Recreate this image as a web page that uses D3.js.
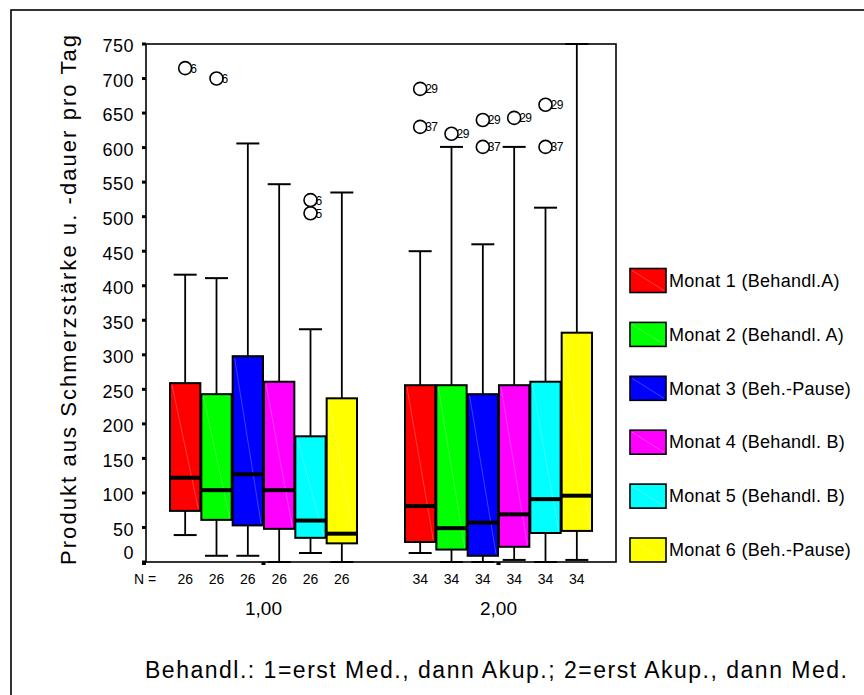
<!DOCTYPE html>
<html>
<head>
<meta charset="utf-8">
<script src="https://cdn.jsdelivr.net/npm/d3@7"></script>
<style>
  body { margin: 0; background: #fff; }
  svg { font-family: Arial, "Liberation Sans", sans-serif; }
</style>
</head>
<body>
<svg width="864" height="695"></svg>
<script>
// --- data ---
var groups = ['1,00', '2,00'];
var nCounts = [26, 34];
var months = ['Monat 1 (Behandl.A)', 'Monat 2 (Behandl. A)', 'Monat 3 (Beh.-Pause)',
              'Monat 4 (Behandl. B)', 'Monat 5 (Behandl. B)', 'Monat 6 (Beh.-Pause)'];
var colors = ['#ff0000', '#00ff00', '#0000ff', '#ff00ff', '#00ffff', '#ffff00'];
var yTicks = [0, 50, 100, 150, 200, 250, 300, 350, 400, 450, 500, 550, 600, 650, 700, 750];

// one row per group, one value per month
var whiskerLow  = [[39, 9, 9, 0, 13, 0],          [13, 0, 0, 3, 0, 3]];
var q1          = [[74, 61, 53, 48, 35, 27],      [29, 18, 9, 22, 42, 45]];
var median      = [[122, 104, 127, 104, 60, 41],  [81, 49, 57, 69, 91, 96]];
var q3          = [[259, 243, 298, 261, 182, 237],[256, 256, 243, 256, 261, 332]];
var whiskerHigh = [[416, 411, 606, 547, 337, 535],[450, 601, 460, 601, 513, 750]];

// outliers: [group, month, value, case label]
var outliers = [
  [0, 0, 715, '6'], [0, 1, 700, '6'], [0, 4, 524, '6'], [0, 4, 505, '5'],
  [1, 0, 685, '29'], [1, 0, 630, '37'], [1, 1, 620, '29'],
  [1, 2, 640, '29'], [1, 2, 601, '37'], [1, 3, 643, '29'],
  [1, 4, 662, '29'], [1, 4, 601, '37']
];

var svg = d3.select('svg');

var plot = { left: 146, right: 616, top: 44, bottom: 562 };

var x0 = d3.scaleBand().domain(groups).range([plot.left, plot.right]);
var x1 = d3.scaleBand().domain(d3.range(months.length))
  .range([x0.bandwidth() * 0.1, x0.bandwidth() * 0.9]);
var y = d3.scaleLinear().domain([0, 750]).range([plot.bottom, plot.top]);

// outer frame (runs off the right and bottom edge)
svg.append('rect')
  .attr('x', 11).attr('y', 10)
  .attr('width', 900).attr('height', 720)
  .attr('fill', 'none').attr('stroke', '#000').attr('stroke-width', 1.6);

// plot frame
svg.append('rect')
  .attr('x', plot.left).attr('y', plot.top)
  .attr('width', plot.right - plot.left).attr('height', plot.bottom - plot.top)
  .attr('fill', 'none').attr('stroke', '#000').attr('stroke-width', 1.6);

// y axis ticks and labels
var yAxis = svg.append('g');
yAxis.selectAll('rect.tick').data(yTicks).enter().append('rect')
  .attr('class', 'tick')
  .attr('x', plot.left - 4).attr('y', function(d) { return y(d) - 1.5; })
  .attr('width', 4).attr('height', 3).attr('fill', '#000');
yAxis.selectAll('text').data(yTicks).enter().append('text')
  .attr('x', 134)
  .attr('y', function(d) { return d === 0 ? y(d) - 9 : y(d) + 2; })
  .attr('dy', '0.35em')
  .attr('text-anchor', 'end')
  .attr('font-size', 18)
  .attr('letter-spacing', 0.5)
  .text(function(d) { return d; });

// y title
svg.append('text')
  .attr('transform', 'translate(76,300) rotate(-90)')
  .attr('text-anchor', 'middle')
  .attr('font-size', 22)
  .attr('textLength', 530)
  .attr('lengthAdjust', 'spacing')
  .text('Produkt aus Schmerzstärke u. -dauer pro Tag');

// x axis: group tick squares
svg.selectAll('rect.xtick').data(groups).enter().append('rect')
  .attr('class', 'xtick')
  .attr('x', function(d) { return x0(d) + x0.bandwidth() / 2 - 2; })
  .attr('y', plot.bottom)
  .attr('width', 4).attr('height', 3).attr('fill', '#000');
svg.append('rect')
  .attr('x', plot.left - 4).attr('y', plot.bottom).attr('width', 4).attr('height', 3).attr('fill', '#000');

// boxes
var gGroup = svg.selectAll('g.group').data(groups).enter().append('g')
  .attr('class', 'group')
  .attr('transform', function(d) { return 'translate(' + x0(d) + ',0)'; });

gGroup.each(function(gName, gi) {
  var g = d3.select(this);
  var bw = x1.bandwidth();
  var capW = 23;
  months.forEach(function(m, mi) {
    var cx = x1(mi) + bw / 2;
    var b = g.append('g');
    // whiskers
    b.append('line')
      .attr('x1', cx).attr('x2', cx)
      .attr('y1', y(whiskerHigh[gi][mi])).attr('y2', y(q3[gi][mi]))
      .attr('stroke', '#000').attr('stroke-width', 1.8);
    b.append('line')
      .attr('x1', cx).attr('x2', cx)
      .attr('y1', y(q1[gi][mi])).attr('y2', y(whiskerLow[gi][mi]))
      .attr('stroke', '#000').attr('stroke-width', 1.8);
    [whiskerHigh[gi][mi], whiskerLow[gi][mi]].forEach(function(v) {
      b.append('line')
        .attr('x1', cx - capW / 2).attr('x2', cx + capW / 2)
        .attr('y1', y(v)).attr('y2', y(v))
        .attr('stroke', '#000').attr('stroke-width', 2);
    });
    // box
    var bx = x1(mi) + 0.5, bwid = bw - 1;
    b.append('rect')
      .attr('x', bx).attr('y', y(q3[gi][mi]))
      .attr('width', bwid).attr('height', y(q1[gi][mi]) - y(q3[gi][mi]))
      .attr('fill', colors[mi]);
    // faint shading seam of the original
    b.append('line')
      .attr('x1', bx + 2).attr('y1', y(q3[gi][mi]) + 2)
      .attr('x2', bx + bwid - 2).attr('y2', y(q1[gi][mi]) - 2)
      .attr('stroke', '#fff').attr('stroke-opacity', 0.35).attr('stroke-width', 0.7);
    b.append('rect')
      .attr('x', bx).attr('y', y(q3[gi][mi]))
      .attr('width', bwid).attr('height', y(q1[gi][mi]) - y(q3[gi][mi]))
      .attr('fill', 'none').attr('stroke', '#000').attr('stroke-width', 2);
    // median
    b.append('line')
      .attr('x1', bx).attr('x2', bx + bwid)
      .attr('y1', y(median[gi][mi])).attr('y2', y(median[gi][mi]))
      .attr('stroke', '#000').attr('stroke-width', 4);
    // N
    svg.append('text')
      .attr('x', x0(gName) + cx).attr('y', 584)
      .attr('text-anchor', 'middle')
      .attr('font-size', 14)
      .text(nCounts[gi]);
  });
});

// outliers
var gOut = svg.append('g');
outliers.forEach(function(o) {
  var cx = x0(groups[o[0]]) + x1(o[1]) + x1.bandwidth() / 2;
  var cy = y(o[2]);
  gOut.append('circle')
    .attr('cx', cx).attr('cy', cy).attr('r', 6.5)
    .attr('fill', 'none').attr('stroke', '#000').attr('stroke-width', 1.6);
  gOut.append('text')
    .attr('x', cx + 5).attr('y', cy + 4.5)
    .attr('font-size', 12)
    .attr('letter-spacing', -0.5)
    .text(o[3]);
});

// N =
svg.append('text')
  .attr('x', 134).attr('y', 584)
  .attr('font-size', 14)
  .text('N =');

// group labels
svg.selectAll('text.glabel').data(groups).enter().append('text')
  .attr('class', 'glabel')
  .attr('x', function(d) { return x0(d) + x0.bandwidth() / 2; })
  .attr('y', 615)
  .attr('text-anchor', 'middle')
  .attr('font-size', 19)
  .text(function(d) { return d; });

// footer
svg.append('text')
  .attr('x', 145).attr('y', 678)
  .attr('font-size', 23)
  .attr('textLength', 702)
  .attr('lengthAdjust', 'spacing')
  .text('Behandl.: 1=erst Med., dann Akup.; 2=erst Akup., dann Med.');

// legend
var legend = svg.selectAll('g.legend').data(months).enter().append('g')
  .attr('class', 'legend')
  .attr('transform', function(d, i) { return 'translate(630,' + (268.5 + i * 53.9) + ')'; });
legend.append('rect')
  .attr('width', 36).attr('height', 24)
  .attr('fill', function(d, i) { return colors[i]; })
  .attr('stroke', '#000').attr('stroke-width', 1.6);
legend.append('line')
  .attr('x1', 2).attr('y1', 2).attr('x2', 34).attr('y2', 22)
  .attr('stroke', '#fff').attr('stroke-opacity', 0.35).attr('stroke-width', 0.7);
legend.append('text')
  .attr('x', 39).attr('y', 12)
  .attr('dy', '0.35em')
  .attr('font-size', 18)
  .attr('letter-spacing', 0.3)
  .text(function(d) { return d; });
</script>
</body>
</html>
